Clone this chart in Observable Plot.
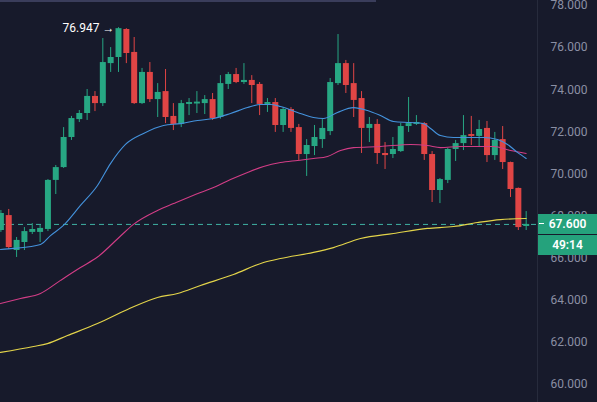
<!DOCTYPE html>
<html><head><meta charset="utf-8">
<script src="https://cdn.jsdelivr.net/npm/d3@7"></script>
<script src="https://cdn.jsdelivr.net/npm/@observablehq/plot@0.6"></script>
<style>
html,body{margin:0;padding:0;background:#171a2b;}
#wrap{position:relative;width:597px;height:402px;overflow:hidden;background:#171a2b;font-family:Roboto,"Noto Sans",sans-serif;}
.tag{position:absolute;left:538px;width:59px;height:20px;line-height:20px;background:#25a27c;color:#fff;font-size:12px;font-weight:600;text-align:center;}
.tick{position:absolute;left:1px;top:9.5px;width:5px;height:1px;background:#fff;}
#sep{position:absolute;left:537px;top:0;width:1px;height:402px;background:#272b3c;}
#topbar{position:absolute;left:0;top:0;width:376px;height:2px;background:#3a3d5b;}
</style></head><body><div id="wrap"><div id="sep"></div><div id="topbar"></div></div>
<script>
// Candles (index 0..67)
const candleOpen  = [67.31,68.02,66.36,66.74,67.22,67.22,67.36,69.69,70.30,71.73,72.58,72.87,73.68,73.34,75.24,75.53,76.86,75.77,73.34,74.82,73.53,73.91,72.73,72.35,73.30,73.32,73.34,73.53,72.68,74.25,74.72,74.34,74.44,74.25,73.30,73.39,72.30,73.06,72.20,70.92,71.30,71.63,72.01,74.29,75.24,74.29,73.58,72.16,72.35,70.97,70.92,71.06,72.25,72.35,72.39,70.92,69.21,69.69,71.16,71.44,71.87,71.78,72.16,70.87,71.63,70.54,69.31,67.50];
const candleHigh  = [68.26,68.31,66.98,67.45,67.64,67.55,69.73,70.40,72.20,72.73,73.01,74.01,73.91,76.43,76.00,76.947,76.90,76.48,75.01,75.29,74.29,74.96,73.34,73.49,73.58,73.91,73.72,73.82,74.67,74.82,75.01,75.24,74.67,74.34,73.58,73.58,73.15,73.15,72.35,71.63,72.30,72.58,74.53,76.62,75.39,75.24,73.91,72.68,72.58,71.49,71.73,72.40,73.63,72.77,72.44,71.06,69.78,71.21,71.59,72.77,72.73,72.54,72.49,71.97,72.25,70.56,69.33,68.21];
const candleLow   = [67.22,66.41,66.03,66.36,67.12,66.74,67.26,69.02,70.26,71.59,72.44,72.54,72.96,73.20,74.82,74.82,75.24,73.30,73.30,73.39,72.68,72.39,72.06,72.20,72.77,72.87,72.82,72.54,72.60,74.01,74.29,74.25,73.34,72.77,72.92,71.97,71.97,71.97,70.64,69.88,70.87,71.21,71.82,74.20,73.82,72.68,70.97,71.49,70.45,70.21,70.73,71.02,71.97,72.30,70.64,68.64,68.59,69.54,70.59,71.11,71.35,71.25,70.54,70.64,70.21,68.88,67.31,67.31];
const candleClose = [68.12,66.50,66.84,67.26,67.36,67.41,69.69,70.30,71.73,72.63,72.87,73.68,73.34,75.29,75.53,76.90,75.72,73.34,74.82,73.53,73.87,72.68,72.35,73.34,73.39,73.41,73.53,72.63,74.29,74.72,74.34,74.44,74.20,73.30,73.39,72.30,73.06,72.16,70.92,71.35,71.73,72.16,74.34,75.24,74.20,73.49,72.16,72.35,70.97,70.87,71.16,72.25,72.39,72.44,70.92,69.21,69.73,71.16,71.44,71.82,71.78,72.11,70.87,71.59,70.54,69.26,67.45,67.60];

// Moving averages (position in candle index, value)
const blueMaX = [-0.05,1.61,5.05,6.33,7.98,10.15,12.32,13.98,15.89,18.19,20.74,22.91,25.08,27.12,29.29,31.45,33.11,34.39,35.66,37.83,39.87,41.14,42.93,44.97,46.76,48.42,50.08,52.25,53.90,54.80,56.07,57.73,59.52,61.56,63.34,64.62,65.89,67];
const blueMaV = [66.41,66.46,66.65,67.07,67.55,68.50,69.45,70.49,71.40,71.92,72.30,72.39,72.54,72.63,72.87,73.15,73.30,73.30,73.20,72.92,72.68,72.63,72.92,73.15,73.01,72.77,72.49,72.44,72.39,72.16,71.82,71.73,71.73,71.73,71.63,71.40,71.02,70.73];
const pinkMaX = [-0.05,2.50,5.05,7.60,10.15,12.32,15.26,16.91,19.97,22.02,25.46,27.12,29.29,31.45,33.50,35.66,37.83,39.87,41.66,43.32,44.97,48.42,52.25,54.41,56.07,58.62,62.83,65.00,67];
const pinkMaV = [63.84,64.08,64.32,64.94,65.55,66.05,67.05,67.60,68.26,68.59,69.12,69.35,69.73,70.07,70.35,70.54,70.64,70.73,70.83,71.11,71.25,71.30,71.40,71.35,71.25,71.30,71.30,71.11,70.97];
const yellowMaX = [-0.05,4.16,5.94,8.49,12.32,16.15,19.97,22.53,25.46,29.67,33.50,35.66,39.87,42.42,45.87,50.08,54.41,57.73,60.79,63.72,67];
const yellowMaV = [61.52,61.80,61.94,62.32,62.89,63.56,64.13,64.32,64.70,65.22,65.79,65.98,66.27,66.50,66.93,67.17,67.41,67.50,67.69,67.83,67.88];

const yTicks = [60,62,64,66,68,70,72,74,76,78];
const lastPrice = 67.6;
const countdown = "49:14";
const peakIndex = 15;
const peakValue = 76.947;

const upColor = "#27a783", downColor = "#e04545";
const candles = candleOpen.map((o, i) => ({i, o, h: candleHigh[i], l: candleLow[i], c: candleClose[i]}));
const isUp = d => d.c >= d.o;
const pts = (xs, vs) => xs.map((x, k) => ({x, v: vs[k]}));
const fmt = d3.format(".3f");

const plot = Plot.plot({
  width: 597, height: 402,
  marginLeft: 0, marginRight: 60, marginTop: 0, marginBottom: 0,
  style: {background: "transparent", fontFamily: "Roboto, 'Noto Sans', sans-serif"},
  x: {type: "linear", domain: [-0.051, 68.444], axis: null},
  y: {domain: [59.14, 78.2375], axis: null},
  marks: [
    Plot.axisY({anchor: "right", ticks: yTicks, tickFormat: fmt, tickSize: 0, tickPadding: 13, fontSize: 12, fill: "#8b8fa4", label: null}),
    Plot.ruleY([lastPrice], {stroke: "#3fb3a3", strokeDasharray: "5,4", strokeWidth: 1}),
    Plot.ruleX(candles, {filter: isUp, x: "i", y1: "l", y2: "h", stroke: upColor, strokeWidth: 1}),
    Plot.ruleX(candles, {filter: d => !isUp(d), x: "i", y1: "l", y2: "h", stroke: downColor, strokeWidth: 1}),
    Plot.ruleX(candles, {filter: isUp, x: "i", y1: "o", y2: "c", stroke: upColor, strokeWidth: 6}),
    Plot.ruleX(candles, {filter: d => !isUp(d), x: "i", y1: "o", y2: "c", stroke: downColor, strokeWidth: 6}),
    Plot.line(pts(yellowMaX, yellowMaV), {x: "x", y: "v", stroke: "#e3d44a", strokeWidth: 1.2, curve: "monotone-x"}),
    Plot.line(pts(pinkMaX, pinkMaV), {x: "x", y: "v", stroke: "#d23d86", strokeWidth: 1.1, curve: "monotone-x"}),
    Plot.line(pts(blueMaX, blueMaV), {x: "x", y: "v", stroke: "#4492dc", strokeWidth: 1.1, curve: "monotone-x"}),
    Plot.text([{x: peakIndex, v: peakValue}], {x: "x", y: "v", text: d => fmt(d.v) + " \u2192", textAnchor: "end", dx: -4, fill: "#ffffff", fontSize: 12})
  ]
});

const wrap = document.getElementById("wrap");
wrap.insertBefore(plot, wrap.firstChild);
plot.style.position = "absolute";
plot.style.left = "0px";
plot.style.top = "0px";

const py = plot.scale("y").apply(lastPrice);
const tag1 = document.createElement("div");
tag1.className = "tag";
tag1.style.top = (py - 10) + "px";
tag1.innerHTML = '<span class="tick"></span>' + fmt(lastPrice);
wrap.appendChild(tag1);
const tag2 = document.createElement("div");
tag2.className = "tag";
tag2.style.top = (py + 11) + "px";
tag2.textContent = countdown;
wrap.appendChild(tag2);
</script></body></html>
